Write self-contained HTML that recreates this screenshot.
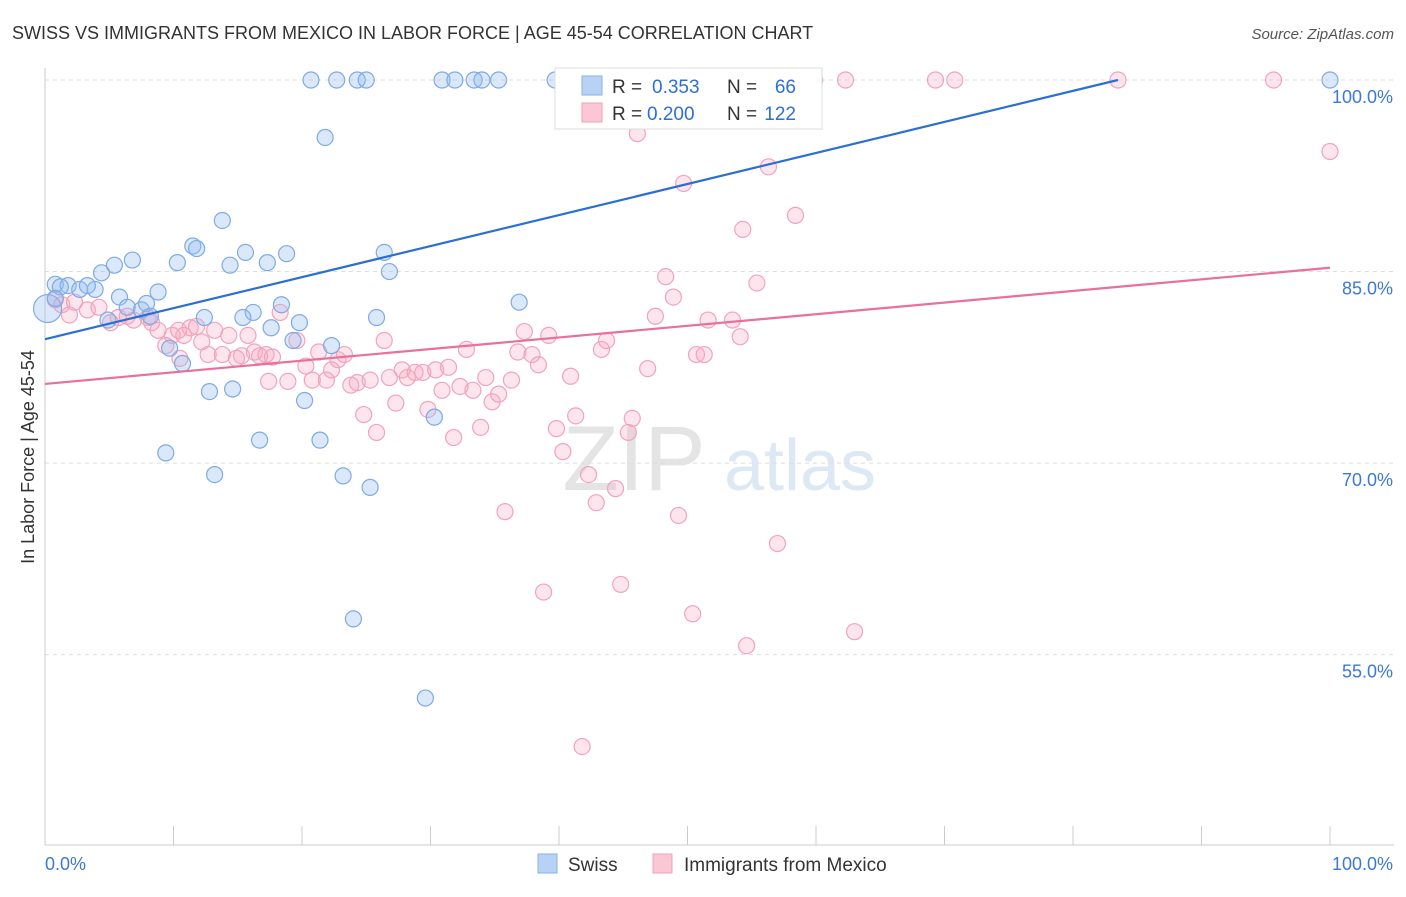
<!DOCTYPE html>
<html><head><meta charset="utf-8"><style>
body{margin:0;background:#fff;font-family:"Liberation Sans",sans-serif}
svg text{font-family:"Liberation Sans",sans-serif}
</style></head><body>
<svg id="c" width="1406" height="892" xmlns="http://www.w3.org/2000/svg">
<text x="12" y="39" font-size="18" fill="#333">SWISS VS IMMIGRANTS FROM MEXICO IN LABOR FORCE | AGE 45-54 CORRELATION CHART</text>
<text x="1394" y="39" font-size="15" fill="#555" text-anchor="end" font-style="italic">Source: ZipAtlas.com</text>
<text x="34" y="457" font-size="18" fill="#333" text-anchor="middle" transform="rotate(-90 34 457)">In Labor Force | Age 45-54</text>
<g><text x="634" y="490" font-size="92" fill="#e4e4e4" text-anchor="middle" font-family="Liberation Serif">ZIP</text><text x="800" y="490" font-size="72" fill="#dde8f5" text-anchor="middle">atlas</text></g>
<g id="grid"></g><g id="axes"></g><g id="pts"></g><g id="lines"></g>
<g>
<rect x="555" y="68" width="267" height="61" fill="#fff" stroke="#ddd"/>
<rect x="582" y="76" width="20" height="19" fill="#b8d2f5" stroke="#8ab0e6"/>
<rect x="582" y="103" width="20" height="19" fill="#fbc6d6" stroke="#f0a0b8"/>
<text x="612" y="93" font-size="19" fill="#333">R =</text>
<text x="652" y="93" font-size="19" fill="#2d6fd6">0.353</text>
<text x="727" y="93" font-size="19" fill="#333">N =</text>
<text x="796" y="93" font-size="19" fill="#2d6fd6" text-anchor="end">66</text>
<text x="612" y="120" font-size="19" fill="#333">R =</text>
<text x="647" y="120" font-size="19" fill="#2d6fd6">0.200</text>
<text x="727" y="120" font-size="19" fill="#333">N =</text>
<text x="796" y="120" font-size="19" fill="#2d6fd6" text-anchor="end">122</text>
</g>
<g>
<rect x="538" y="854" width="19" height="19" fill="#b8d2f5" stroke="#8ab0e6"/>
<text x="568" y="871" font-size="19" fill="#333">Swiss</text>
<rect x="653" y="854" width="19" height="19" fill="#fbc6d6" stroke="#f0a0b8"/>
<text x="684" y="871" font-size="19" fill="#333">Immigrants from Mexico</text>
</g>
</svg>
<script>
const yTicks=[55,70,85,100];
const yTickLabels=["55.0%","70.0%","85.0%","100.0%"];
const xTicks=[0,10,20,30,40,50,60,70,80,90,100];
const swissX=[0.8,1.8,1.2,2.7,3.9,3.3,4.4,5.4,6.8,5.8,6.4,7.5,7.9,8.8,8.2,4.9,9.7,10.7,10.3,11.5,11.8,13.8,14.4,15.6,17.3,18.8,18.4,16.2,15.4,12.4,17.6,19.8,19.3,22.3,12.8,14.6,20.2,16.7,21.4,9.4,13.2,23.2,25.3,25.8,26.4,26.8,30.3,36.9,21.8,20.7,22.7,24.3,25.0,30.9,31.9,33.4,34.0,35.3,39.7,41.8,47.2,100,24.0,29.6,0.2,0.8];
const swissY=[84.0,83.9,83.8,83.6,83.6,83.9,84.9,85.5,85.9,83.0,82.2,82.0,82.5,83.4,81.5,81.2,79.0,77.8,85.7,87.0,86.8,89.0,85.5,86.5,85.7,86.4,82.4,81.8,81.4,81.4,80.6,81.0,79.6,79.2,75.6,75.8,74.9,71.8,71.8,70.8,69.1,69.0,68.1,81.4,86.5,85.0,73.6,82.6,95.5,100,100,100,100,100,100,100,100,100,100,100,100,100,57.8,51.6,82.1,82.9];
const mexX=[0.8,1.3,1.9,2.3,3.3,4.2,5.1,5.7,6.4,6.9,8.0,8.3,8.8,9.4,9.9,10.4,10.8,11.3,11.8,12.2,12.7,13.2,13.8,14.3,14.9,15.3,15.8,16.3,16.7,17.2,17.7,18.3,18.9,19.6,20.3,20.8,21.3,21.9,22.3,22.8,23.3,23.8,24.3,24.8,25.3,25.8,26.4,26.8,27.3,27.8,28.2,28.8,29.4,29.8,30.4,30.9,31.4,31.8,32.3,32.8,33.3,33.9,34.3,34.8,35.3,35.8,36.3,36.8,37.3,37.9,38.4,38.8,39.2,39.8,40.3,40.9,41.3,41.8,42.3,42.9,43.3,43.7,44.4,44.8,45.4,45.7,46.9,47.5,48.3,48.9,49.3,49.7,50.4,50.7,51.3,51.6,52.5,53.5,54.1,54.3,54.6,55.4,56.3,57.0,58.4,59.5,59.9,62.3,63.0,69.3,70.8,83.5,95.6,100,46.1,17.4,10.5];
const mexY=[82.8,82.4,81.6,82.6,82.0,82.2,81.0,81.4,81.5,81.2,81.4,81.0,80.4,79.2,80.0,80.4,80.0,80.6,80.7,79.5,78.5,80.4,78.5,80.0,78.2,78.4,80.0,78.7,78.4,78.5,78.3,81.8,76.4,79.6,77.6,76.5,78.7,76.5,77.3,78.1,78.5,76.1,76.3,73.8,76.5,72.4,79.6,76.7,74.7,77.3,76.7,77.1,77.1,74.2,77.3,75.7,77.5,72.0,76.0,78.9,75.7,72.8,76.7,74.8,75.4,66.2,76.5,78.7,80.3,78.5,77.7,59.9,80.0,72.7,70.9,76.8,73.7,47.8,69.1,66.9,78.9,79.6,68.0,60.5,72.4,73.5,77.4,81.5,84.6,83.0,65.9,91.9,58.2,78.5,78.5,81.2,100,81.2,79.9,88.3,55.7,84.1,93.2,63.7,89.4,100,100,100,56.8,100,100,100,100,94.4,95.8,76.4,78.2];
const swissLine=[79.7,100];
const swissLineEnd=83.5;
const mexLine=[76.2,85.3];
const NS="http://www.w3.org/2000/svg";
const X=v=>45+v*12.85, Y=v=>80+(100-v)*12.77;
function mk(t,a,p){const e=document.createElementNS(NS,t);for(const k in a)e.setAttribute(k,a[k]);document.getElementById(p).appendChild(e);return e;}
yTicks.forEach((t,i)=>{
 const g=mk('line',{x1:45,x2:1394,y1:Y(t),y2:Y(t),stroke:'#ddd','stroke-dasharray':'4,4'},'grid');
 
 
 const l=mk('text',{x:1393,y:Y(t)+23,'font-size':18,fill:'#3b78d8','text-anchor':'end'},'axes');l.textContent=yTickLabels[i];
 
 
});
mk('line',{x1:45,x2:45,y1:68,y2:845,stroke:'#ccc'},'axes');
mk('line',{x1:45,x2:1394,y1:845,y2:845,stroke:'#ccc'},'axes');
xTicks.forEach(t=>{const e=mk('line',{x1:X(t),x2:X(t),y1:826,y2:845,stroke:'#ccc'},'axes');
 
 });
const a=mk('text',{x:45,y:870,'font-size':18,fill:'#3b78d8'},'axes');a.textContent='0.0%';


const b=mk('text',{x:1393,y:870,'font-size':18,fill:'#3b78d8','text-anchor':'end'},'axes');b.textContent='100.0%';


mexX.forEach((x,i)=>{const c=mk('circle',{cx:X(x),cy:Y(mexY[i]),r:8,fill:'rgba(248,170,195,0.3)',stroke:'#f2a3bb','stroke-width':1.2},'pts');
 
 });
swissX.forEach((x,i)=>{const c=mk('circle',{cx:X(x),cy:Y(swissY[i]),r:i==64?14:8,fill:'rgba(150,190,240,0.35)',stroke:'#7eaae6','stroke-width':1.2},'pts');
 
 });
const l1=mk('line',{x1:X(0),y1:Y(swissLine[0]),x2:X(swissLineEnd),y2:Y(swissLine[1]),stroke:'#2a6fd4','stroke-width':2.2},'lines');


const l2=mk('line',{x1:X(0),y1:Y(mexLine[0]),x2:X(100),y2:Y(mexLine[1]),stroke:'#e8709a','stroke-width':2.2},'lines');


</script>
</body></html>
